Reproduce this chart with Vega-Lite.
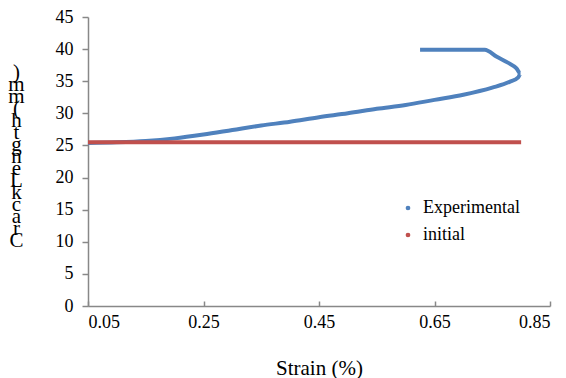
{
  "$schema": "https://vega.github.io/schema/vega-lite/v6.json",
  "width": 462,
  "height": 289,
  "autosize": {"type": "none"},
  "padding": {"left": 88, "top": 17, "right": 16, "bottom": 72},
  "background": "white",
  "config": {
    "view": {"stroke": null},
    "font": "Liberation Serif",
    "axis": {"labelFont": "Liberation Serif", "titleFont": "Liberation Serif", "labelFontSize": 18, "titleFontSize": 21, "labelColor": "black", "titleColor": "black", "titleFontWeight": "normal", "domainColor": "#888888", "tickColor": "#888888", "domainWidth": 1.5, "tickWidth": 1.5, "grid": false},
    "legend": {"labelFont": "Liberation Serif", "labelFontSize": 18, "labelColor": "black"}
  },
  "data": {
    "values": [
      {"s": 0.05, "v": 25.4, "series": "Experimental", "o": 1},
      {"s": 0.10, "v": 25.5, "series": "Experimental", "o": 2},
      {"s": 0.15, "v": 25.7, "series": "Experimental", "o": 3},
      {"s": 0.20, "v": 26.1, "series": "Experimental", "o": 4},
      {"s": 0.25, "v": 26.7, "series": "Experimental", "o": 5},
      {"s": 0.30, "v": 27.4, "series": "Experimental", "o": 6},
      {"s": 0.35, "v": 28.1, "series": "Experimental", "o": 7},
      {"s": 0.40, "v": 28.7, "series": "Experimental", "o": 8},
      {"s": 0.45, "v": 29.4, "series": "Experimental", "o": 9},
      {"s": 0.50, "v": 30.0, "series": "Experimental", "o": 10},
      {"s": 0.55, "v": 30.7, "series": "Experimental", "o": 11},
      {"s": 0.60, "v": 31.3, "series": "Experimental", "o": 12},
      {"s": 0.65, "v": 32.1, "series": "Experimental", "o": 13},
      {"s": 0.70, "v": 32.9, "series": "Experimental", "o": 14},
      {"s": 0.75, "v": 34.0, "series": "Experimental", "o": 15},
      {"s": 0.78, "v": 34.9, "series": "Experimental", "o": 16},
      {"s": 0.795, "v": 35.6, "series": "Experimental", "o": 17},
      {"s": 0.799, "v": 36.2, "series": "Experimental", "o": 18},
      {"s": 0.792, "v": 37.0, "series": "Experimental", "o": 19},
      {"s": 0.777, "v": 37.9, "series": "Experimental", "o": 20},
      {"s": 0.758, "v": 38.8, "series": "Experimental", "o": 21},
      {"s": 0.737, "v": 39.9, "series": "Experimental", "o": 22},
      {"s": 0.68, "v": 39.9, "series": "Experimental", "o": 23},
      {"s": 0.625, "v": 39.9, "series": "Experimental", "o": 24},
      {"s": 0.05, "v": 25.5, "series": "initial", "o": 1},
      {"s": 0.80, "v": 25.5, "series": "initial", "o": 2}
    ]
  },
  "mark": {"type": "line", "strokeWidth": 4, "interpolate": "monotone"},
  "encoding": {
    "x": {"field": "s", "type": "quantitative", "scale": {"domain": [0.05, 0.85], "nice": false, "zero": false},
      "axis": {"values": [0.05, 0.25, 0.45, 0.65, 0.85], "format": ".2f", "tickSize": -5, "labelPadding": 12, "title": "Strain (%)", "titleY": 62, "titleBaseline": "middle"}},
    "y": {"field": "v", "type": "quantitative", "scale": {"domain": [0, 45], "nice": false},
      "axis": {"values": [0, 5, 10, 15, 20, 25, 30, 35, 40, 45], "tickSize": 6, "labelPadding": 9,
        "title": [")", "m", "m", "(", " ", "h", "t", "g", "n", "e", "L", " ", "k", "c", "a", "r", "C"],
        "titleAngle": 0, "titleX": -72, "titleY": 44, "titleAlign": "center", "titleBaseline": "top", "titleLineHeight": 12}},
    "order": {"field": "o", "type": "quantitative"},
    "color": {"field": "series", "type": "nominal", "scale": {"domain": ["Experimental", "initial"], "range": ["#4F81BD", "#C0504D"]},
      "legend": {"title": null, "orient": "none", "legendX": 311, "legendY": 182, "symbolType": "circle", "symbolSize": 5, "symbolStrokeWidth": 2.5, "rowPadding": 9, "labelOffset": 6}}
  }
}
